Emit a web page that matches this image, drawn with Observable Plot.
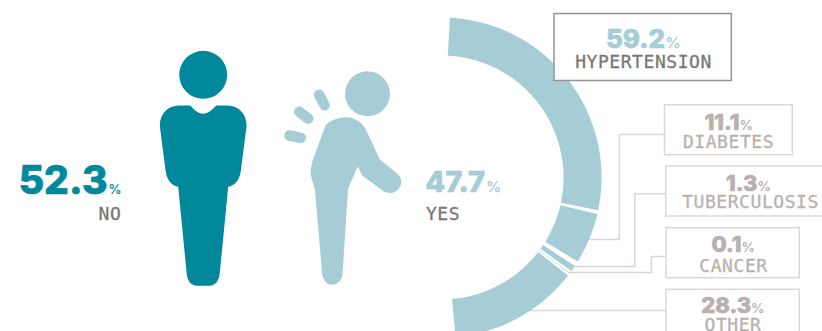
<!DOCTYPE html>
<html>
<head>
<meta charset="utf-8">
<script src="https://cdn.jsdelivr.net/npm/d3@7"></script>
<script src="https://cdn.jsdelivr.net/npm/@observablehq/plot@0.6"></script>
<style>
  html, body { margin: 0; padding: 0; background: #fff; overflow: hidden; }
  .spaced text { letter-spacing: 0.55px; }
</style>
</head>
<body>
<div id="chart"></div>
<script>
// Share of respondents answering no / yes
const answers = ["NO", "YES"];
const answerShares = [52.3, 47.7];

// Breakdown of the "yes" group
const conditions = ["HYPERTENSION", "DIABETES", "TUBERCULOSIS", "CANCER", "OTHER"];
const conditionShares = [59.2, 11.1, 1.3, 0.1, 28.3];

// Palette
const teal = "#01899b";
const pale = "#a6cdd6";
const darkLabel = "#777777";
const softLabel = "#b9b1af";
const softLine = "#dcd7d6";

// Ring geometry, all in page pixels (the x and y scales are identity).
// Angles are degrees clockwise from the top; pads are the gaps after each slice.
const ring = {cx: 441, cy: 177, inner: 122, outer: 160, start: 3, sweep: 167, pads: [1.3, 1.9, 0.9, 0.9, 0]};
const ringMid = (ring.inner + ring.outer) / 2;
const polar = (deg, r) => {
  const a = (deg * Math.PI) / 180;
  return [ring.cx + r * Math.sin(a), ring.cy - r * Math.cos(a)];
};

let cursor = ring.start;
const arcPoints = conditionShares.flatMap((share, i) => {
  const a0 = cursor;
  const a1 = a0 + (share / 100) * ring.sweep;
  cursor = a1 + ring.pads[i];
  const steps = Math.max(1, Math.ceil((a1 - a0) / 0.5));
  return d3.range(steps + 1).map((k) => {
    const [x, y] = polar(a0 + ((a1 - a0) * k) / steps, ringMid);
    return {name: conditions[i], x, y};
  });
});

// Callout boxes and their leader lines
const boxes = [
  {x1: 554, x2: 731.3, y1: 13.5, y2: 80.5, stroke: "#949494"},
  {x1: 664.5, x2: 792.3, y1: 104.7, y2: 154.7, stroke: softLine},
  {x1: 665.7, x2: 840, y1: 166, y2: 216, stroke: softLine},
  {x1: 666, x2: 799.3, y1: 227.7, y2: 277.7, stroke: softLine},
  {x1: 666, x2: 799.3, y1: 289.3, y2: 345, stroke: softLine}
];
const leaders = [
  {name: "diabetes", pts: [[664, 134], [618.7, 134], [618.7, 239], [585, 239]]},
  {name: "tuberculosis", pts: [[666, 193.3], [634.3, 193.3], [634.3, 266], [570, 266]]},
  {name: "cancer", pts: [[666, 256], [651, 256], [651, 272], [568, 272]]},
  {name: "other", pts: [[666, 310], [525, 310]]}
].flatMap((l) => l.pts.map(([x, y]) => ({name: l.name, x, y})));

// Figure outlines, drawn as custom dot symbols relative to each head's centre
const standingBody = {
  draw(c) {
    c.moveTo(0, 39);
    c.bezierCurveTo(5, 39, 9, 35, 13, 30.7);
    c.lineTo(24, 30.7);
    c.bezierCurveTo(36, 30.7, 44, 40, 43.3, 52);
    c.lineTo(37.5, 97);
    c.bezierCurveTo(36, 106, 31, 111, 25, 112);
    c.lineTo(16.5, 199);
    c.bezierCurveTo(16, 206, 12, 211, 6, 211);
    c.lineTo(-6, 211);
    c.bezierCurveTo(-12, 211, -16, 206, -16.5, 199);
    c.lineTo(-25, 112);
    c.bezierCurveTo(-31, 111, -36, 106, -37.5, 97);
    c.lineTo(-43.3, 52);
    c.bezierCurveTo(-44, 40, -36, 30.7, -24, 30.7);
    c.lineTo(-13, 30.7);
    c.bezierCurveTo(-9, 35, -5, 39, 0, 39);
    c.closePath();
  }
};

const bentBody = {
  draw(c) {
    const X = (v) => (v - 291) / 3;
    const Y = (v) => (v - 100) / 3;
    const C = (a, b, d, e, f, g) => c.bezierCurveTo(X(a), Y(b), X(d), Y(e), X(f), Y(g));
    const L = (a, b) => c.lineTo(X(a), Y(b));
    c.moveTo(X(165), Y(195));
    C(180, 178, 205, 170, 228, 170);
    C(250, 170, 272, 182, 285, 205);
    L(328, 297);
    L(375, 335);
    C(392, 348, 397, 365, 388, 380);
    C(378, 397, 358, 402, 340, 393);
    L(275, 345);
    L(262, 318);
    L(233, 383);
    L(216, 640);
    C(215, 660, 200, 673, 185, 673);
    C(170, 673, 157, 660, 155, 640);
    L(133, 385);
    C(125, 360, 117, 340, 122, 320);
    L(127, 298);
    c.closePath();
  }
};

const heads = [
  {x: 202.7, y: 74.3, r: 24, fill: teal, symbol: standingBody},
  {x: 367, y: 93.3, r: 22.5, fill: pale, symbol: bentBody}
];
const painDashes = [
  {x1: 318.7, y1: 94.3, x2: 324, y2: 104.7},
  {x1: 298.7, y1: 111.3, x2: 307.7, y2: 118},
  {x1: 289, y1: 135, x2: 300.3, y2: 137.3}
];

// Text placement: figure end x, baseline y, size, % start x, % size, fill
const bigNumbers = [
  {text: answerShares[0].toFixed(1), x: 107, y: 193.3, size: 39, px: 108, ps: 13, fill: teal},
  {text: answerShares[1].toFixed(1), x: 484.5, y: 191, size: 29, px: 485.5, ps: 15, fill: pale},
  {text: conditionShares[0].toFixed(1), x: 664.5, y: 47.7, size: 26, px: 665, ps: 15, fill: pale},
  {text: conditionShares[1].toFixed(1), x: 739, y: 129, size: 22, px: 739, ps: 13.5, fill: softLabel},
  {text: conditionShares[2].toFixed(1), x: 757, y: 190, size: 22, px: 757, ps: 13.5, fill: softLabel},
  {text: conditionShares[3].toFixed(1), x: 741, y: 251.7, size: 22, px: 741, ps: 13.5, fill: softLabel},
  {text: conditionShares[4].toFixed(1), x: 750.7, y: 312.7, size: 22, px: 750.5, ps: 13.5, fill: softLabel}
];
const labels = [
  {text: answers[0], x: 109.5, y: 219.3, fill: darkLabel},
  {text: answers[1], x: 442.5, y: 219, fill: darkLabel},
  {text: conditions[0], x: 643, y: 67.3, fill: darkLabel},
  {text: conditions[1], x: 728, y: 147.7, fill: softLabel},
  {text: conditions[2], x: 750, y: 207.3, fill: softLabel},
  {text: conditions[3], x: 733, y: 271, fill: softLabel},
  {text: conditions[4], x: 732.5, y: 330, fill: softLabel}
];

const figureFont = "Inter, 'Open Sans', sans-serif";
const labelFont = "'DejaVu Sans Mono', monospace";

const chart = Plot.plot({
  width: 822,
  height: 331,
  margin: 0,
  x: {domain: [0, 822], range: [0, 822], axis: null},
  y: {domain: [0, 331], range: [0, 331], axis: null},
  style: {background: "#fff"},
  marks: [
    Plot.line(leaders, {x: "x", y: "y", z: "name", stroke: softLine, strokeWidth: 1.5, strokeLinecap: "butt", strokeLinejoin: "miter"}),
    Plot.line(arcPoints, {x: "x", y: "y", z: "name", stroke: pale, strokeWidth: ring.outer - ring.inner, strokeLinecap: "butt"}),
    Plot.rect(boxes, {x1: "x1", x2: "x2", y1: "y1", y2: "y2", fill: "#fff", stroke: (d) => d.stroke, strokeWidth: 1.5}),
    ...heads.map((h) => Plot.dot([h], {x: "x", y: "y", r: h.r, fill: "fill"})),
    ...heads.map((h) => Plot.dot([h], {x: "x", y: "y", r: 10, fill: "fill", symbol: h.symbol})),
    Plot.link(painDashes, {x1: "x1", y1: "y1", x2: "x2", y2: "y2", stroke: pale, strokeWidth: 10.5, strokeLinecap: "round"}),
    ...bigNumbers.map((d) => Plot.text([d], {x: "x", y: "y", text: "text", fill: "fill", stroke: "fill", strokeWidth: 0.7, fontSize: d.size, fontWeight: 800, fontFamily: figureFont, textAnchor: "end", lineAnchor: "bottom"})),
    ...bigNumbers.map((d) => Plot.text([d], {x: "px", y: "y", text: () => "%", fill: "fill", fontSize: d.ps, fontWeight: 600, fontFamily: figureFont, textAnchor: "start", lineAnchor: "bottom"})),
    Plot.text(labels, {x: "x", y: "y", text: "text", fill: "fill", stroke: "fill", strokeWidth: 0.3, fontSize: 18, fontFamily: labelFont, textAnchor: "middle", lineAnchor: "bottom", className: "spaced"})
  ]
});
document.getElementById("chart").appendChild(chart);
</script>
</body>
</html>
